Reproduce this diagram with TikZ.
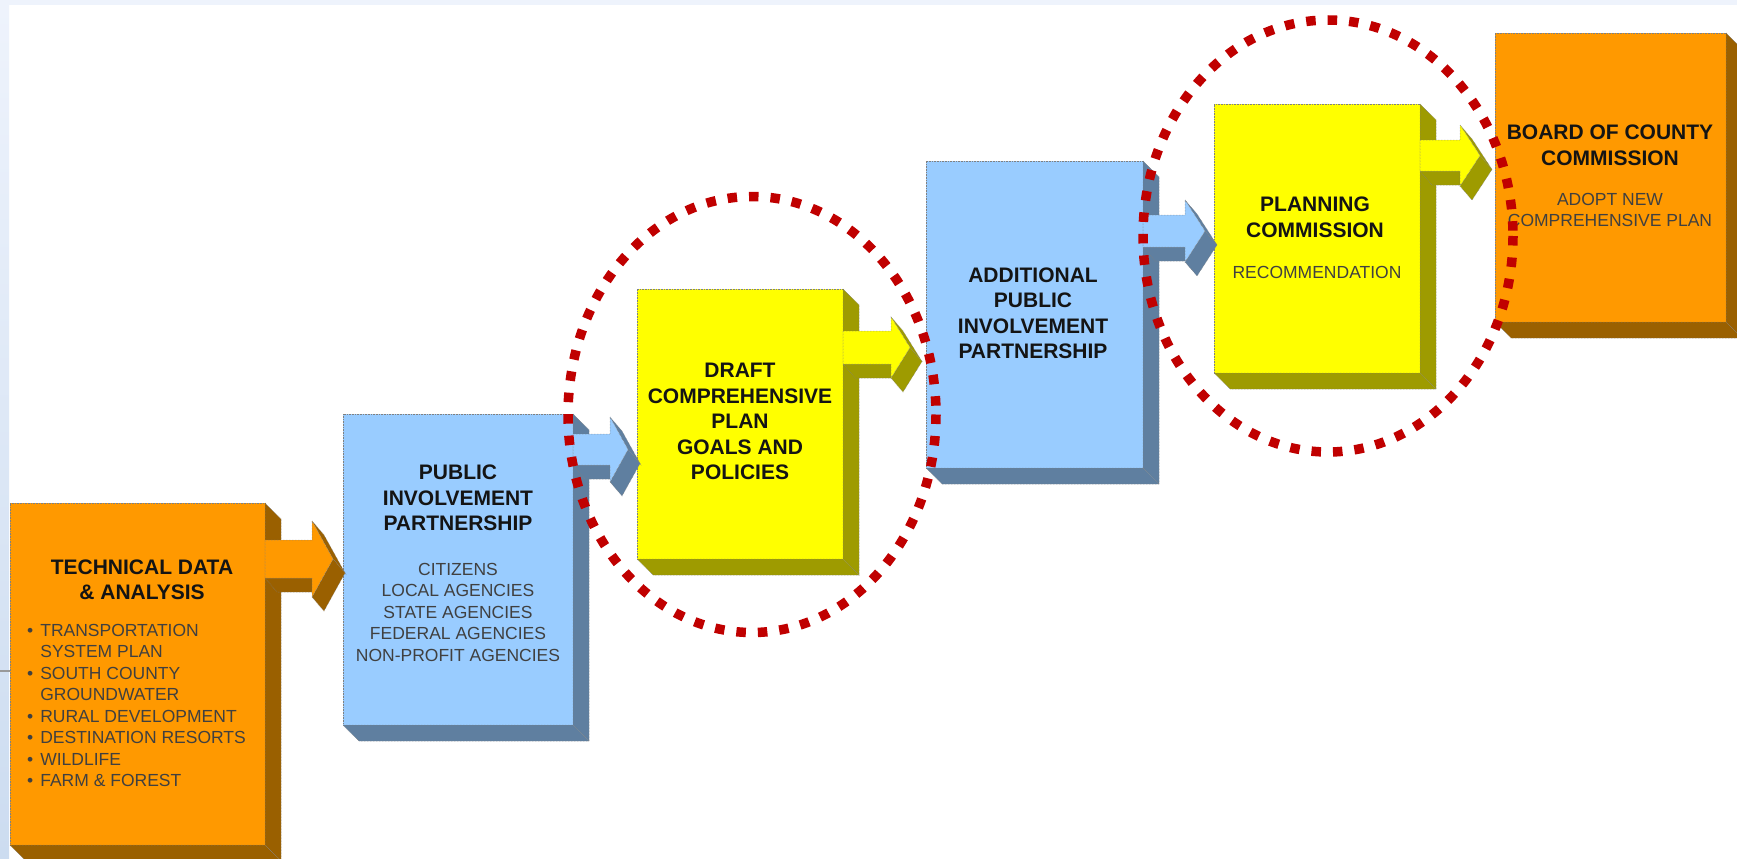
\documentclass[tikz,border=0pt]{standalone}
\usepackage{fontspec}
\setmainfont{Liberation Sans}
\usetikzlibrary{calc}
\definecolor{orF}{HTML}{FF9900}
\definecolor{orS}{HTML}{9A6000}
\definecolor{blF}{HTML}{99CCFF}
\definecolor{blS}{HTML}{5F7FA0}
\definecolor{yeF}{HTML}{FFFF00}
\definecolor{yeS}{HTML}{9E9B00}
\definecolor{dotred}{HTML}{C00000}
\definecolor{slide}{HTML}{EEF3FC}
\definecolor{leftblue}{HTML}{CCDCF0}
\tikzset{
  frontface/.style={rectangle, inner sep=0pt, outer sep=0pt, draw=black!50, line width=0.6pt, densely dotted},
  faceline/.style={draw=black!50, line width=0.5pt, densely dotted},
  titletext/.style={inner sep=0pt, align=center, text=black!92, font=\bfseries\fontsize{21}{25.5}\selectfont},
  bodytext/.style={inner sep=0pt, align=center, text=black!75, font=\fontsize{17.5}{21.5}\selectfont},
  dotring/.style={draw=dotred, line width=9.5pt, dash pattern=on 9.5pt off 12pt}
}
\newcommand\threedbox[7]{%
  \node[frontface, fill=#6, minimum width={#4-#2}, minimum height={#5-#3}, anchor=north west] (#1) at (#2,#3) {};
  \filldraw[faceline, fill=#7] (#1.north east) -- ++(16,16) -- ($(#1.south east)+(16,16)$) -- (#1.south east) -- cycle;
  \filldraw[faceline, fill=#7] (#1.south west) -- (#1.south east) -- ++(16,16) -- ($(#1.south west)+(16,16)$) -- cycle;
}
% #1 front colour, #2 side colour, #3 shaft start x, #4 shaft top, #5 shaft bottom, #6 head base x, #7 head overhang, #8 tip x
\newcommand\blockarr[8]{%
  \pgfmathsetmacro\arrYm{(#4+#5)/2}%
  \pgfmathsetmacro\arrHa{#4-#7}%
  \pgfmathsetmacro\arrHb{#5+#7}%
  \filldraw[faceline, fill=#2] (#3,#5) -- (#6,#5) -- (#6,#5+14) -- (#3+12,#5+14) -- cycle;
  \filldraw[faceline, fill=#2] (#6,\arrHa) -- (#8,\arrYm) -- (#8+12,\arrYm+14) -- (#6+12,\arrHa+14) -- cycle;
  \filldraw[faceline, fill=#2] (#8,\arrYm) -- (#6,\arrHb) -- (#6+12,\arrHb+14) -- (#8+12,\arrYm+14) -- cycle;
  \filldraw[faceline, fill=#1] (#3,#4) -- (#6,#4) -- (#6,\arrHa) -- (#8,\arrYm) -- (#6,\arrHb) -- (#6,#5) -- (#3,#5) -- cycle;
}
\begin{document}
\begin{tikzpicture}[x=1pt,y=-1pt]
\useasboundingbox (0,0) rectangle (1737,859);
\fill[white] (0,0) rectangle (1737,859);
\fill[slide] (0,0) rectangle (1737,5);
\shade[top color=slide, bottom color=leftblue] (0,5) rectangle (9,859);
\draw[black!40, line width=1.5pt] (0,671) -- (10,671);

% boxes
\threedbox{b1}{10}{503}{265}{845}{orF}{orS}
\threedbox{b2}{343}{414}{573}{725}{blF}{blS}
\threedbox{b3}{637}{289}{843}{559}{yeF}{yeS}
\threedbox{b4}{926}{161}{1143}{468}{blF}{blS}
\threedbox{b5}{1214}{104}{1420}{373}{yeF}{yeS}
\threedbox{b6}{1495}{33}{1726}{322}{orF}{orS}

% block arrows
\blockarr{orF}{orS}{265}{540}{578}{312}{19}{333}
\blockarr{blF}{blS}{573}{434}{465}{610}{17}{628}
\blockarr{yeF}{yeS}{843}{331}{364}{891}{14}{910}
\blockarr{blF}{blS}{1143}{215}{247}{1185}{15}{1205}
\blockarr{yeF}{yeS}{1420}{140}{171}{1460}{15}{1480}

% texts
\node[titletext] (t1) at (142,580) {TECHNICAL DATA\\\& ANALYSIS};
\node[bodytext, anchor=west] (l1) at (27,707.25) {\begin{tabular}{@{}l@{\hspace{7pt}}l@{}}
\textbullet & TRANSPORTATION\\
 & SYSTEM PLAN\\
\textbullet & SOUTH COUNTY\\
 & GROUNDWATER\\
\textbullet & RURAL DEVELOPMENT\\
\textbullet & DESTINATION RESORTS\\
\textbullet & WILDLIFE\\
\textbullet & FARM \& FOREST
\end{tabular}};

\node[titletext] (t2) at (458,498) {PUBLIC\\INVOLVEMENT\\PARTNERSHIP};
\node[bodytext] (s2) at (458,612) {CITIZENS\\LOCAL AGENCIES\\STATE AGENCIES\\FEDERAL AGENCIES\\NON-PROFIT AGENCIES};

\node[titletext] (t3) at (740,421.5) {DRAFT\\COMPREHENSIVE\\PLAN\\GOALS AND\\POLICIES};

\node[titletext] (t4) at (1033,313.5) {ADDITIONAL\\PUBLIC\\INVOLVEMENT\\PARTNERSHIP};

\node[titletext] (t5) at (1315,217.5) {PLANNING\\COMMISSION};
\node[bodytext] (s5) at (1317,272) {RECOMMENDATION};

\node[titletext] (t6) at (1610,145.5) {BOARD OF COUNTY\\COMMISSION};
\node[bodytext, font=\fontsize{17.5}{20.5}\selectfont] (s6) at (1610,210) {ADOPT NEW\\COMPREHENSIVE PLAN};

% dotted red rings
\draw[dotring] (752,414.5) ellipse [x radius=184, y radius=218];
\draw[dotring] (1328,236) ellipse [x radius=185, y radius=216];
\end{tikzpicture}
\end{document}
